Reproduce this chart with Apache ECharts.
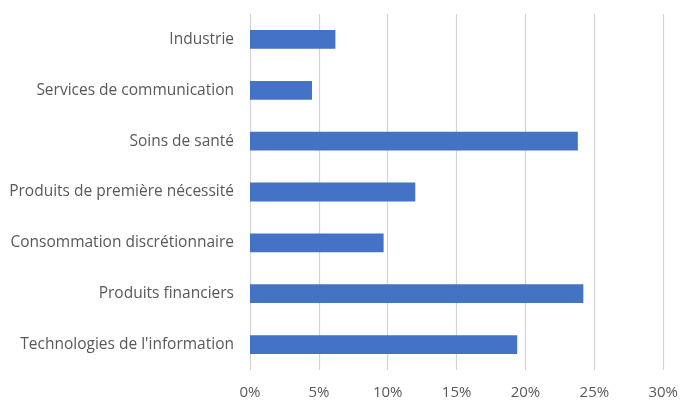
<!DOCTYPE html>
<html>
<head>
<meta charset="utf-8">
<script src="https://cdn.jsdelivr.net/npm/echarts@6/dist/echarts.min.js"></script>
<style>
  html, body { margin: 0; padding: 0; background: #fff; }
  #myChart { width: 681px; height: 400px; }
</style>
</head>
<body>
<div id="myChart"></div>
<script>
  // secteurs, du bas vers le haut
  var sectors = ['Technologies de l\'information', 'Produits financiers', 'Consommation discrétionnaire',
    'Produits de première nécessité', 'Soins de santé', 'Services de communication', 'Industrie']
  var weights = [19.4, 24.2, 9.7, 12.0, 23.8, 4.5, 6.2] // en %
  var xTicks = [0, 5, 10, 15, 20, 25, 30]

  var myChart = echarts.init(document.getElementById('myChart'))
  var option = {
    animation: false,
    textStyle: { fontFamily: 'Open Sans' },
    grid: { left: 250, right: 16, top: 14, bottom: 30, containLabel: false },
    xAxis: {
      type: 'value',
      min: xTicks[0],
      max: xTicks[xTicks.length - 1],
      interval: 5,
      axisLine: { show: false },
      axisTick: { show: false },
      axisLabel: {
        formatter: '{value}%',
        color: '#595959',
        fontSize: 15,
        margin: 15
      },
      splitLine: { show: true, lineStyle: { color: '#d4d4d4', width: 1.2 } }
    },
    yAxis: {
      type: 'category',
      data: sectors,
      axisLine: { show: false },
      axisTick: { show: false },
      axisLabel: { color: '#595959', fontSize: 15.5, margin: 16 }
    },
    series: [{
      type: 'bar',
      data: weights,
      barWidth: '37%',
      itemStyle: { color: '#4472C4' }
    }]
  }
  myChart.setOption(option)
</script>
</body>
</html>
